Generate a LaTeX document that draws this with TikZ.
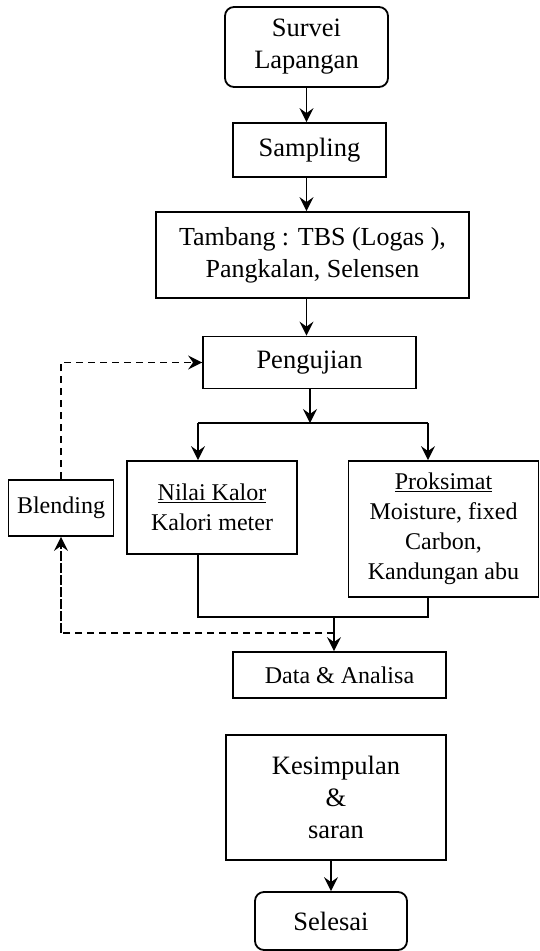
\documentclass[tikz,border=0pt]{standalone}
\usepackage{fontspec}
\setmainfont{Liberation Serif}
\usetikzlibrary{arrows.meta}
\tikzset{
  fbox/.style={draw,line width=1.8pt,align=center,inner sep=0pt,font=\fontsize{24}{30}\selectfont},
  fbig/.style={fbox,font=\fontsize{26.5}{32}\selectfont},
  fround/.style={fbig,rounded corners=9pt},
  farr/.style={line width=1.5pt,-{Stealth[length=14pt,width=14pt,inset=5pt]}},
  fline/.style={line width=1.5pt},
  fdash/.style={line width=1.5pt,dash pattern=on 7pt off 5pt},
}
\begin{document}
\begin{tikzpicture}[x=1pt,y=-1pt]
\useasboundingbox (0,0) rectangle (540,951);
%% main column, top to bottom
\node[fround,minimum width=163pt,minimum height=80pt] (survei) at (306.5,47) {Survei\\Lapangan};
\node[fbig,minimum width=153pt,minimum height=54pt] (sampling) at (309.5,150) {Sampling};
\node[fbig,minimum width=313pt,minimum height=86pt,font=\fontsize{26}{32}\selectfont] (tambang) at (312.5,255) {Tambang : TBS (Logas ),\\Pangkalan, Selensen};
\node[fbig,minimum width=213pt,minimum height=52pt] (uji) at (309.5,362.5) {Pengujian};
% the two tests side by side, blending off to the left
\node[fbox,minimum width=170pt,minimum height=93pt] (kalor) at (212,507.5) {\underline{Nilai Kalor}\\Kalori meter};
\node[fbox,minimum width=190pt,minimum height=136pt] (proks) at (443.5,529) {\underline{Proksimat}\\Moisture, fixed\\Carbon,\\Kandungan abu};
\node[fbox,minimum width=105pt,minimum height=56pt] (blend) at (61,508) {Blending};
\node[fbox,minimum width=213pt,minimum height=46pt] (data) at (339.5,675) {Data \& Analisa};
\node[fbig,minimum width=220pt,minimum height=125pt] (simpul) at (336,797.5) {Kesimpulan\\\&\\saran};
\node[fround,minimum width=152pt,minimum height=58pt] (selesai) at (331,921) {Selesai};
% branch and merge points
\coordinate (split) at (310,423);
\coordinate (splitL) at (198,423);
\coordinate (splitR) at (428,423);
\coordinate (joinL) at (198,617);
\coordinate (joinR) at (428,617);
\coordinate (join) at (334,617);
\coordinate (back) at (334,633);
% connectors
\draw[farr] (survei.south) -- (survei.south |- sampling.north);
\draw[farr] (survei.south |- sampling.south) -- (survei.south |- tambang.north);
\draw[farr] (survei.south |- tambang.south) -- (survei.south |- uji.north);
\draw[farr] (split |- uji.south) -- (split);
\draw[fline] (splitL) -- (splitR);
\draw[farr] (splitL) -- (splitL |- kalor.north);
\draw[farr] (splitR) -- (splitR |- proks.north);
\draw[fline] (splitL |- kalor.south) -- (joinL) -- (joinR) -- (splitR |- proks.south);
\draw[farr] (join) -- (join |- data.north);
\draw[farr] (selesai.north |- simpul.south) -- (selesai.north);
% feedback loop through blending
\draw[fdash] (back) -| (blend.south);
\draw[farr,dash pattern=on 7pt off 5pt] (back -| blend.south) -- (blend.south);
\draw[fdash] (blend.north) |- (uji.west);
\draw[farr,dash pattern=on 7pt off 5pt] ([xshift=-30pt]uji.west) -- (uji.west);
\end{tikzpicture}
\end{document}
